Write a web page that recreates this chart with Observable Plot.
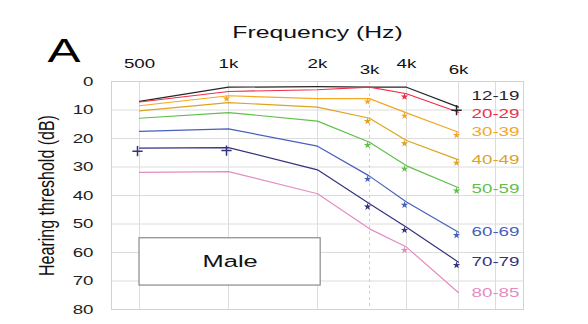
<!DOCTYPE html>
<html>
<head>
<meta charset="utf-8">
<script src="https://cdn.jsdelivr.net/npm/d3@7"></script>
<script src="https://cdn.jsdelivr.net/npm/@observablehq/plot@0.6"></script>
<style>
  html, body { margin: 0; padding: 0; background: #fff; }
  #chart { width: 588px; height: 324px; }
</style>
</head>
<body>
<div id="chart"></div>
<script>
// ---- data ----
const freqs = [500, 1000, 2000, 3000, 4000, 6000];
const ageGroups = ["12-19", "20-29", "30-39", "40-49", "50-59", "60-69", "70-79", "80-85"];
const thr_12_19 = [7.0, 2.0, 1.8, 2.0, 2.0, 9.0];
const thr_20_29 = [7.2, 3.5, 2.9, 2.0, 4.3, 10.8];
const thr_30_39 = [8.5, 5.0, 6.0, 6.0, 11.0, 17.8];
const thr_40_49 = [10.3, 7.4, 9.0, 12.9, 20.7, 27.5];
const thr_50_59 = [12.9, 10.9, 13.9, 21.3, 29.6, 37.3];
const thr_60_69 = [17.5, 16.6, 22.7, 33.2, 42.3, 52.9];
const thr_70_79 = [23.4, 23.2, 31.0, 42.9, 51.1, 63.4];
const thr_80_85 = [31.9, 31.6, 39.4, 51.7, 58.1, 74.1];
const seriesValues = [thr_12_19, thr_20_29, thr_30_39, thr_40_49, thr_50_59, thr_60_69, thr_70_79, thr_80_85];
const groupColors = ["#262626", "#f02d48", "#f6a623", "#dca41f", "#5fc04a", "#4660bd", "#33337f", "#e48cc2"];
// legend label level (dB) next to each line end
const labelDb = [5.2, 11.3, 17.8, 27.5, 37.6, 52.9, 63.4, 74.1];
const labelFreq = 8000;
// top tick labels
const tickFreqUpper = [500, 1000, 2000, 4000];
const tickFreqLower = [3000, 6000];
const tickText = {500: "500", 1000: "1k", 2000: "2k", 3000: "3k", 4000: "4k", 6000: "6k"};
const yTicks = [0, 10, 20, 30, 40, 50, 60, 70, 80];
const gridFreqSolid = [500, 1000, 2000, 4000, 6000, 8000];
const gridFreqDashed = [3000];
// significance markers: group, frequency, shape
const markerGroup = ["30-39", "20-29", "30-39", "30-39", "30-39", "40-49", "40-49", "40-49", "50-59", "50-59", "50-59",
  "60-69", "60-69", "60-69", "70-79", "70-79", "70-79", "80-85", "12-19", "70-79", "70-79"];
const markerFreq = [1000, 4000, 3000, 4000, 6000, 3000, 4000, 6000, 3000, 4000, 6000,
  3000, 4000, 6000, 3000, 4000, 6000, 4000, 6000, 500, 1000];
const markerShape = ["star", "star", "star", "star", "star", "star", "star", "star", "star", "star", "star",
  "star", "star", "star", "star", "star", "star", "star", "plus", "plus", "plus"];
// annotation box
const boxX = [500, 2050];
const boxY = [55, 71.6];
const boxLabel = "Male";

// ---- build tables ----
const long = [];
ageGroups.forEach((g, gi) => freqs.forEach((f, fi) => long.push({group: g, freq: f, db: seriesValues[gi][fi]})));
const lookup = (g, f) => seriesValues[ageGroups.indexOf(g)][freqs.indexOf(f)];
const markers = markerGroup.map((g, i) => ({group: g, freq: markerFreq[i], shape: markerShape[i], db: lookup(g, markerFreq[i])}));
const stars = markers.filter(d => d.shape === "star");
const pluses = markers.filter(d => d.shape === "plus");
const labels = ageGroups.map((g, i) => ({group: g, freq: labelFreq, db: labelDb[i]}));

const font = "Liberation Sans, Arial, Helvetica, sans-serif";

const chart = Plot.plot({
  width: 588,
  height: 324,
  marginLeft: 111,
  marginRight: 65,
  marginTop: 81,
  marginBottom: 15,
  style: {fontFamily: font, background: "#fff", color: "#222"},
  x: {type: "log", domain: [402, 9950], axis: null},
  y: {domain: [0, 80], reverse: true, axis: null},
  color: {domain: ageGroups, range: groupColors},
  marks: [
    Plot.gridY(yTicks, {stroke: "#dcdcdc", strokeOpacity: 1}),
    Plot.gridX(gridFreqSolid, {stroke: "#dcdcdc", strokeOpacity: 1}),
    Plot.gridX(gridFreqDashed, {stroke: "#cfcfcf", strokeOpacity: 1, strokeDasharray: "3,3"}),
    Plot.frame({stroke: "#d2d2d2"}),
    Plot.rect([{}], {x1: boxX[0], x2: boxX[1], y1: boxY[0], y2: boxY[1], fill: "#fff", stroke: "#8a8a8a", strokeWidth: 1.2}),
    Plot.text([boxLabel], {x: Math.sqrt(boxX[0] * boxX[1]), y: (boxY[0] + boxY[1]) / 2, text: d => d, fontSize: 17, fill: "#111"}),
    Plot.line(long, {x: "freq", y: "db", z: "group", stroke: "group", strokeWidth: 1.2}),
    Plot.dot(stars, {x: "freq", y: "db", fill: "group", symbol: "star", r: 2.3, dx: -2, dy: 3}),
    Plot.dot(pluses, {x: "freq", y: "db", stroke: "group", symbol: "plus", r: 3.4, strokeWidth: 1.5, dx: -2, dy: 3}),
    Plot.text(labels, {x: "freq", y: "db", text: "group", fill: "group", fontSize: 12.5}),
    Plot.axisY(yTicks, {tickSize: 0, tickPadding: 18, fontSize: 12.5, label: null, fill: "#222"}),
    Plot.text(tickFreqUpper, {x: d => d, frameAnchor: "top", lineAnchor: "middle", dy: -17.5, text: d => tickText[d], fontSize: 12.5, fill: "#111"}),
    Plot.text(tickFreqLower, {x: d => d, frameAnchor: "top", lineAnchor: "middle", dy: -11.5, text: d => tickText[d], fontSize: 12.5, fill: "#111"}),
    Plot.text(["Frequency (Hz)"], {frameAnchor: "top", lineAnchor: "middle", dy: -48.5, text: d => d, fontSize: 16.5, fill: "#111"}),
    Plot.text(["A"], {frameAnchor: "top-left", textAnchor: "middle", lineAnchor: "middle", dx: -47.5, dy: -30, text: d => d, fontSize: 33, fill: "#000"}),
    Plot.text(["Hearing threshold (dB)"], {frameAnchor: "left", textAnchor: "middle", lineAnchor: "middle", rotate: -90, dx: -64, text: d => d, fontSize: 16, fill: "#111"})
  ]
});

// The reference's lettering is horizontally stretched; widen glyphs about each text's anchor.
chart.querySelectorAll("text").forEach(t => {
  const tr = t.getAttribute("transform") || "";
  const rotated = /rotate/.test(tr);
  t.setAttribute("transform", tr + (rotated ? " scale(1,1.35)" : " scale(1.5,1)"));
});

document.getElementById("chart").appendChild(chart);
</script>
</body>
</html>
